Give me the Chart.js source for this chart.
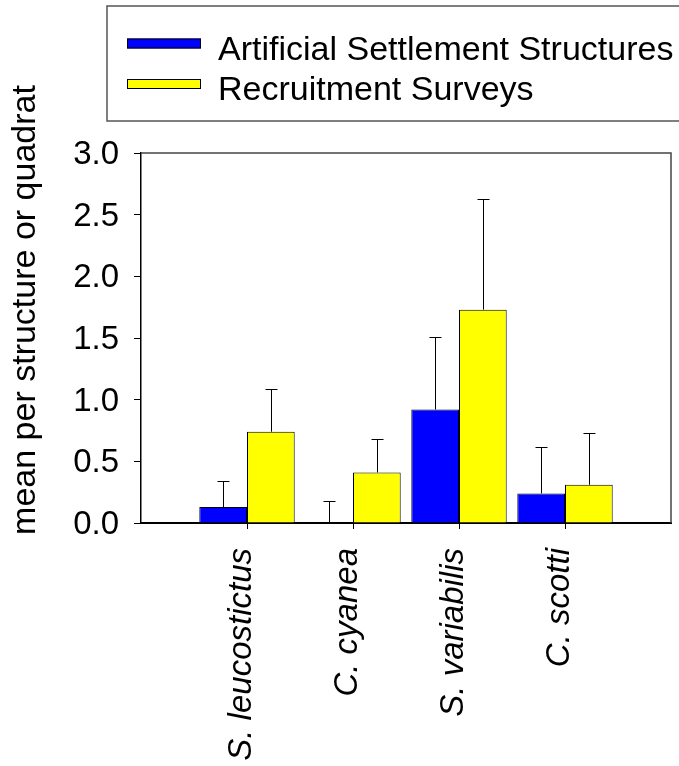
<!DOCTYPE html>
<html>
<head>
<meta charset="utf-8">
<script src="https://cdn.jsdelivr.net/npm/chart.js@4/dist/chart.umd.min.js"></script>
<style>
  html, body { margin: 0; padding: 0; background: #ffffff; }
  #wrap { width: 679px; height: 766px; }
</style>
</head>
<body>
<div id="wrap"><canvas id="c" width="679" height="766"></canvas></div>
<script>
// Species on the category axis
const species = ['S. leucostictus', 'C. cyanea', 'S. variabilis', 'C. scotti'];
// Mean recruits and standard errors for each method
const structureMeans = [0.13, 0.00, 0.92, 0.24];
const structureSE    = [0.21, 0.18, 0.59, 0.38];
const surveyMeans    = [0.74, 0.41, 1.73, 0.31];
const surveySE       = [0.35, 0.27, 0.90, 0.42];
// Value axis ticks
const yTicks = [0, 0.5, 1.0, 1.5, 2.0, 2.5, 3.0];
const seriesNames = ['Artificial Settlement Structures', 'Recruitment Surveys'];
const yTitle = 'mean per structure or quadrat';

const FONT = "'Liberation Sans', Arial, sans-serif";
Chart.defaults.font.family = FONT;
Chart.defaults.color = '#000';

// an empty slot on each side of the four species groups
const labels = [''].concat(species, ['']);
const pad = arr => [null].concat(arr, [null]);

// Upper error bars with a short cap
const errorBars = {
  id: 'errorBars',
  afterDatasetsDraw(chart) {
    const ctx = chart.ctx;
    const y = chart.scales.y;
    ctx.save();
    ctx.strokeStyle = '#000';
    ctx.lineWidth = 1;
    chart.data.datasets.forEach((ds, i) => {
      const meta = chart.getDatasetMeta(i);
      meta.data.forEach((el, j) => {
        const v = ds.data[j];
        const e = ds.errors[j];
        if (v == null || e == null) return;
        const x = Math.round(el.x) + 0.5;
        const yb = y.getPixelForValue(v);
        const yt = Math.round(y.getPixelForValue(v + e)) + 0.5;
        ctx.beginPath();
        ctx.moveTo(x, yb);
        ctx.lineTo(x, yt);
        ctx.moveTo(x - 6, yt);
        ctx.lineTo(x + 6, yt);
        ctx.stroke();
      });
    });
    ctx.restore();
  }
};

// Top and right edges of the plot frame
const frame = {
  id: 'frame',
  afterDraw(chart) {
    const a = chart.chartArea;
    const ctx = chart.ctx;
    ctx.save();
    ctx.strokeStyle = '#444';
    ctx.lineWidth = 1.5;
    ctx.beginPath();
    ctx.moveTo(a.left, a.top);
    ctx.lineTo(a.right, a.top);
    ctx.lineTo(a.right, a.bottom);
    ctx.stroke();
    ctx.restore();
  }
};

// Rotated value-axis title
const axisTitle = {
  id: 'axisTitle',
  afterDraw(chart) {
    const ctx = chart.ctx;
    ctx.save();
    ctx.translate(35, 310);
    ctx.rotate(-Math.PI / 2);
    ctx.font = '34px ' + FONT;
    ctx.fillStyle = '#000';
    ctx.textAlign = 'center';
    ctx.textBaseline = 'alphabetic';
    ctx.fillText(yTitle, 0, 0);
    ctx.restore();
  }
};

// Boxed legend at the top
const boxLegend = {
  id: 'boxLegend',
  afterDraw(chart) {
    const ctx = chart.ctx;
    ctx.save();
    ctx.strokeStyle = '#555';
    ctx.lineWidth = 1.5;
    ctx.strokeRect(107, 6, 600, 115);
    const rows = [38.5, 79];
    chart.data.datasets.forEach((ds, i) => {
      const top = rows[i];
      ctx.fillStyle = ds.backgroundColor;
      ctx.fillRect(127, top, 74, 10);
      ctx.strokeStyle = '#000';
      ctx.lineWidth = 1;
      ctx.strokeRect(127.5, top + 0.5, 73, 9);
      ctx.fillStyle = '#000';
      ctx.font = '34px ' + FONT;
      ctx.textAlign = 'left';
      ctx.textBaseline = 'alphabetic';
      ctx.fillText(ds.label, 218, top + 21);
    });
    ctx.restore();
  }
};

new Chart(document.getElementById('c'), {
  type: 'bar',
  data: {
    labels: labels,
    datasets: [
      {
        label: seriesNames[0],
        data: pad(structureMeans),
        errors: pad(structureSE),
        backgroundColor: '#0000ff',
        borderColor: '#000',
        borderWidth: 1
      },
      {
        label: seriesNames[1],
        data: pad(surveyMeans),
        errors: pad(surveySE),
        backgroundColor: '#ffff00',
        borderColor: '#000',
        borderWidth: 1
      }
    ]
  },
  options: {
    responsive: false,
    animation: false,
    devicePixelRatio: 1,
    categoryPercentage: 0.9,
    barPercentage: 1.0,
    layout: { padding: { top: 153, right: 8, left: 0, bottom: 0 } },
    plugins: {
      legend: { display: false },
      tooltip: { enabled: false }
    },
    scales: {
      x: {
        type: 'category',
        offset: false,
        afterFit(scale) {
          scale.height = 243;
          scale.paddingLeft = 0;
          scale.paddingRight = 0;
        },
        grid: {
          offset: false,
          drawOnChartArea: false,
          drawTicks: true,
          tickLength: 6,
          tickWidth: 1,
          tickColor: c => (c.index === 0 || c.index === labels.length - 1) ? 'rgba(0,0,0,0)' : '#000'
        },
        border: { display: true, color: '#000', width: 2 },
        ticks: {
          autoSkip: false,
          maxRotation: 90,
          minRotation: 90,
          padding: 19,
          labelOffset: -5,
          color: '#000',
          font: { size: 33, style: 'italic', family: FONT }
        }
      },
      y: {
        min: 0,
        max: 3,
        afterFit(scale) {
          scale.width = 141;
          scale.paddingTop = 0;
          scale.paddingBottom = 0;
        },
        afterBuildTicks(scale) { scale.ticks = yTicks.map(v => ({ value: v })); },
        grid: {
          drawOnChartArea: false,
          drawTicks: true,
          tickLength: 7,
          tickWidth: 1,
          tickColor: '#000'
        },
        border: { display: true, color: '#000', width: 1.5 },
        ticks: {
          padding: 15,
          labelOffset: 2,
          color: '#000',
          font: { size: 33, family: FONT },
          callback: v => Number(v).toFixed(1)
        }
      }
    }
  },
  plugins: [errorBars, frame, axisTitle, boxLegend]
});
</script>
</body>
</html>
